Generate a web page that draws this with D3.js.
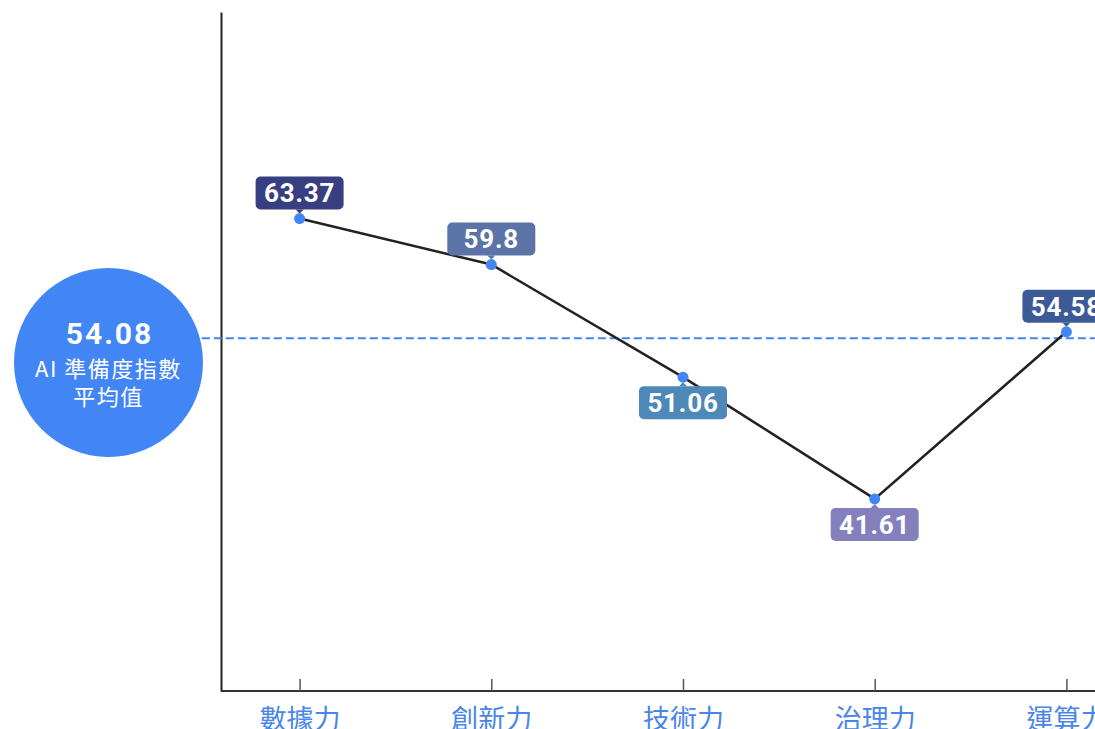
<!DOCTYPE html>
<html>
<head>
<meta charset="utf-8">
<script src="https://cdn.jsdelivr.net/npm/d3@7"></script>
<style>
  html, body { margin: 0; padding: 0; background: #ffffff; }
  svg { display: block; }
</style>
</head>
<body>
<svg id="chart" width="1095" height="729"></svg>
<script>
// AI readiness index: five sub-scores and their average
const categories = ["數據力", "創新力", "技術力", "治理力", "運算力"];
const scores = [63.37, 59.8, 51.06, 41.61, 54.58];
const labelColors = ["#383f80", "#5b73a6", "#4e88b8", "#8480bd", "#3c5a96"];
const averageValue = 54.08;
const averageLines = ["AI 準備度指數", "平均值"];

const W = 1095, H = 729;
const svg = d3.select("#chart");

const plot = { left: 221, top: 12, bottom: 691 };

const x = d3.scalePoint()
  .domain(categories)
  .range([plot.left, 1145])
  .padding(0.41);

const y = d3.scaleLinear()
  .domain([26.7, 79.4])
  .range([plot.bottom, plot.top]);

const data = categories.map((c, i) => ({ cat: c, value: scores[i], color: labelColors[i] }));

// axes
const xAxis = d3.axisBottom(x).tickSizeInner(-12).tickSizeOuter(0).tickPadding(15);
const gx = svg.append("g")
  .attr("transform", `translate(0,${plot.bottom})`)
  .call(xAxis);
gx.select(".domain").attr("stroke", "#333").attr("stroke-width", 2)
  .attr("d", `M${plot.left},0H${W + 20}`);
gx.selectAll(".tick line").attr("stroke", "#555").attr("stroke-width", 1.5);
gx.selectAll(".tick text")
  .attr("fill", "#4a86e8")
  .attr("font-family", "'Noto Sans CJK TC', 'Noto Sans', sans-serif")
  .attr("font-size", 27)
  .attr("dy", "0.85em");

const yAxis = d3.axisLeft(y).tickValues([]).tickSizeOuter(0);
const gy = svg.append("g")
  .attr("transform", `translate(${plot.left},0)`)
  .call(yAxis);
gy.select(".domain").attr("stroke", "#222").attr("stroke-width", 2);

// average reference badge and dashed line
const badge = { cx: 108.5, cy: 362.5, r: 94.5 };
const avgY = y(averageValue);
const edgeX = badge.cx + Math.sqrt(Math.max(0, badge.r * badge.r - (avgY - badge.cy) ** 2));
svg.append("line")
  .attr("x1", edgeX + 2).attr("x2", W)
  .attr("y1", avgY).attr("y2", avgY)
  .attr("stroke", "#4285f4")
  .attr("stroke-width", 2)
  .attr("stroke-dasharray", "8,4");

svg.append("circle")
  .attr("cx", badge.cx).attr("cy", badge.cy).attr("r", badge.r)
  .attr("fill", "#4285f4");
svg.append("text")
  .attr("x", badge.cx + 1).attr("y", 344)
  .attr("text-anchor", "middle")
  .attr("fill", "#fff")
  .attr("font-family", "Roboto, 'Noto Sans', sans-serif")
  .attr("font-weight", 700)
  .attr("font-size", 30)
  .attr("letter-spacing", 2)
  .text(averageValue.toFixed(2));
const caption = svg.append("text")
  .attr("text-anchor", "middle")
  .attr("fill", "#fff")
  .attr("font-family", "'Noto Sans CJK TC', 'Noto Sans', sans-serif")
  .attr("font-size", 22)
  .attr("letter-spacing", 1.5);
averageLines.forEach((t, i) => {
  caption.append("tspan")
    .attr("x", badge.cx).attr("y", 377 + i * 28)
    .text(t);
});

// series line
const line = d3.line().x(d => x(d.cat)).y(d => y(d.value));
svg.append("path")
  .datum(data)
  .attr("d", line)
  .attr("fill", "none")
  .attr("stroke", "#222")
  .attr("stroke-width", 2.5);

// value labels: above the point when at or above the average, below otherwise
const boxW = 88, boxH = 33, gap = 9;
const labels = svg.append("g").selectAll("g")
  .data(data)
  .join("g")
  .attr("transform", d => `translate(${x(d.cat)},${y(d.value)})`);

labels.each(function (d) {
  const g = d3.select(this);
  const above = d.value >= averageValue;
  const top = above ? -gap - boxH : gap;
  g.append("rect")
    .attr("x", -boxW / 2).attr("y", top)
    .attr("width", boxW).attr("height", boxH)
    .attr("rx", 5)
    .attr("fill", d.color);
  const tipBase = above ? -gap : gap;
  const tipEnd = above ? -gap + 4 : gap - 4;
  g.append("path")
    .attr("d", `M-4,${tipBase}L4,${tipBase}L0,${tipEnd}Z`)
    .attr("fill", d.color);
  g.append("text")
    .attr("x", 0).attr("y", top + boxH / 2)
    .attr("dy", "0.36em")
    .attr("text-anchor", "middle")
    .attr("fill", "#fff")
    .attr("font-family", "Roboto, 'Noto Sans', sans-serif")
    .attr("font-weight", 700)
    .attr("font-size", 26)
    .attr("letter-spacing", 0.8)
    .text(d.value);
});

// points
svg.append("g").selectAll("circle")
  .data(data)
  .join("circle")
  .attr("cx", d => x(d.cat))
  .attr("cy", d => y(d.value))
  .attr("r", 5.5)
  .attr("fill", "#4285f4");
</script>
</body>
</html>
